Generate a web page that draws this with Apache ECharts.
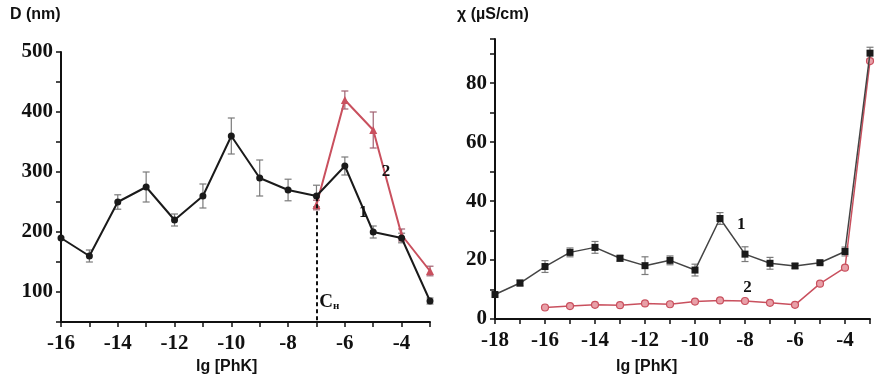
<!DOCTYPE html>
<html><head><meta charset="utf-8">
<script src="https://cdn.jsdelivr.net/npm/echarts@6/dist/echarts.min.js"></script>
<style>html,body{margin:0;padding:0;background:#fff}#c{width:894px;height:385px}</style>
</head><body><div id="c"></div>
<script>
// Left panel: particle size D (nm)
const leftX1 = [-16,-15,-14,-13,-12,-11,-10,-9,-8,-7,-6,-5,-4,-3];
const leftD1 = [190,160,250,275,220,260,360,290,270,260,310,200,190,85];
const leftD1Err = [0,10,12,25,10,20,30,30,18,18,15,10,8,5];
const leftX2 = [-7,-6,-5,-4,-3];
const leftD2 = [245,420,370,195,135];
const leftD2Err = [8,15,30,10,8];
// Right panel: conductivity chi (uS/cm)
const rightX1 = [-18,-17,-16,-15,-14,-13,-12,-11,-10,-9,-8,-7,-6,-5,-4,-3];
const chi1 = [8.3,12.2,17.8,22.6,24.3,20.6,18.1,19.9,16.6,34.1,22,18.9,18,19.1,22.9,90.2];
const chi1Err = [0,1,2,1.5,2,1,3,1.5,2,2,2.5,2,0.8,0.5,1.5,2];
const rightX2 = [-16,-15,-14,-13,-12,-11,-10,-9,-8,-7,-6,-5,-4,-3];
const chi2 = [3.9,4.4,4.8,4.7,5.3,5,5.9,6.3,6.1,5.5,4.8,12,17.4,87.5];
const leftXTicks = [-16,-14,-12,-10,-8,-6,-4];
const rightXTicks = [-18,-16,-14,-12,-10,-8,-6,-4];

const BLACK = '#1a1a1a', RED = '#c9505e', ERR = '#7a7a7a';
const pair = (xs, ys) => xs.map((x,i)=>[x, ys[i]]);
const errData = (xs, ys, es) => xs.map((x,i)=>[x, ys[i]-es[i], ys[i]+es[i]]).filter((d,i)=>es[i]>0);

function errRender(color){
  return function(params, api){
    const x = api.value(0), lo = api.value(1), hi = api.value(2);
    const p1 = api.coord([x, lo]), p2 = api.coord([x, hi]);
    const w = 3.5, st = {stroke: color, lineWidth: 1.2};
    return {type:'group', children:[
      {type:'line', shape:{x1:p1[0],y1:p1[1],x2:p2[0],y2:p2[1]}, style:st},
      {type:'line', shape:{x1:p1[0]-w,y1:p1[1],x2:p1[0]+w,y2:p1[1]}, style:st},
      {type:'line', shape:{x1:p2[0]-w,y1:p2[1],x2:p2[0]+w,y2:p2[1]}, style:st}
    ]};
  };
}

const tickFont = {fontFamily:'Liberation Serif', fontWeight:'bold', fontSize:21, color:'#111'};
const axLine = {show:true, onZero:false, lineStyle:{color:'#111', width:2}};

function xAxis(gi, min, max, labels){
  return {type:'value', gridIndex:gi, min:min, max:max, interval:1,
    axisLine:axLine, axisTick:{show:true, length:5, lineStyle:{color:'#111', width:1.5}},
    splitLine:{show:false},
    axisLabel:Object.assign({margin:11, formatter:v => labels.includes(v) ? String(v) : ''}, tickFont)};
}
function yAxis(gi, min, max, interval, step, skipMin){
  return {type:'value', gridIndex:gi, min:min, max:max, interval:interval,
    axisLine:axLine, axisTick:{show:true, length:5, lineStyle:{color:'#111', width:1.5}},
    splitLine:{show:false},
    axisLabel:Object.assign({margin:8, formatter:v => (v % step === 0 && !(skipMin && v===min)) ? String(v) : ''}, tickFont)};
}

const annFont = {fontFamily:'Liberation Serif', fontWeight:'bold', fontSize:17, color:'#111'};

const chart = echarts.init(document.getElementById('c'), null, {renderer:'canvas'});
chart.setOption({
  animation:false,
  backgroundColor:'#fff',
  grid:[
    {left:61, top:52, width:369, height:270},
    {left:495, top:39, width:375, height:280}
  ],
  xAxis:[ xAxis(0, -16, -3, leftXTicks), xAxis(1, -18, -3, rightXTicks) ],
  yAxis:[ yAxis(0, 50, 500, 50, 100, true), yAxis(1, 0, 95, 10, 20, false) ],
  graphic:[
    {type:'text', left:10, top:7, style:{text:'D (nm)', font:'bold 16px "Liberation Sans"', fill:'#111'}},
    {type:'text', left:457, top:7, style:{text:'χ (µS/cm)', font:'bold 16px "Liberation Sans"', fill:'#111'}},
    {type:'text', left:196, top:359, style:{text:'lg [PhK]', font:'bold 16px "Liberation Sans"', fill:'#111'}},
    {type:'text', left:616, top:359, style:{text:'lg [PhK]', font:'bold 16px "Liberation Sans"', fill:'#111'}}
  ],
  series:[
    {type:'custom', xAxisIndex:0, yAxisIndex:0, renderItem:errRender(ERR), encode:{x:0,y:[1,2]}, data:errData(leftX1,leftD1,leftD1Err), z:1},
    {type:'custom', xAxisIndex:0, yAxisIndex:0, renderItem:errRender('#a06070'), encode:{x:0,y:[1,2]}, data:errData(leftX2,leftD2,leftD2Err), z:1},
    {type:'line', xAxisIndex:0, yAxisIndex:0, data:pair(leftX2,leftD2), symbol:'triangle', symbolSize:8,
      lineStyle:{color:RED, width:2}, itemStyle:{color:RED}, z:2,
      markPoint:{symbol:'circle', symbolSize:1, itemStyle:{color:'transparent'},
        label:Object.assign({show:true, position:'inside', formatter:'2'}, annFont),
        data:[{coord:[-4.55, 300]}]}},
    {type:'line', xAxisIndex:0, yAxisIndex:0, data:pair(leftX1,leftD1), symbol:'circle', symbolSize:7,
      lineStyle:{color:BLACK, width:2}, itemStyle:{color:BLACK}, z:3,
      markLine:{silent:true, symbol:'none', lineStyle:{color:'#111', type:[4,3], width:2},
        label:{show:false}, data:[[{coord:[-7,258]},{coord:[-7,50]}]]},
      markPoint:{symbol:'circle', symbolSize:1, itemStyle:{color:'transparent'},
        data:[
          {coord:[-5.35, 232], label:Object.assign({show:true, position:'inside', formatter:'1'}, annFont)},
          {coord:[-6.55, 84], label:{show:true, position:'inside', formatter:'{c|C}{s|н}',
            rich:{c:{fontFamily:'Liberation Serif', fontWeight:'bold', fontSize:19, color:'#111'},
                  s:{fontFamily:'Liberation Serif', fontWeight:'bold', fontSize:11, color:'#111', padding:[10,0,0,0]}}}}
        ]}},
    {type:'custom', xAxisIndex:1, yAxisIndex:1, renderItem:errRender(ERR), encode:{x:0,y:[1,2]}, data:errData(rightX1,chi1,chi1Err), z:1},
    {type:'line', xAxisIndex:1, yAxisIndex:1, data:pair(rightX2,chi2), symbol:'circle', symbolSize:7,
      lineStyle:{color:RED, width:1.5}, itemStyle:{color:'#e8a0a8', borderColor:RED, borderWidth:1.2}, z:2,
      markPoint:{symbol:'circle', symbolSize:1, itemStyle:{color:'transparent'},
        label:Object.assign({show:true, position:'inside', formatter:'2'}, annFont),
        data:[{coord:[-7.9, 10.8]}]}},
    {type:'line', xAxisIndex:1, yAxisIndex:1, data:pair(rightX1,chi1), symbol:'rect', symbolSize:7,
      lineStyle:{color:'#444', width:1.5}, itemStyle:{color:BLACK}, z:3,
      markPoint:{symbol:'circle', symbolSize:1, itemStyle:{color:'transparent'},
        label:Object.assign({show:true, position:'inside', formatter:'1'}, annFont),
        data:[{coord:[-8.15, 31.9]}]}}
  ]
});
</script></body></html>
